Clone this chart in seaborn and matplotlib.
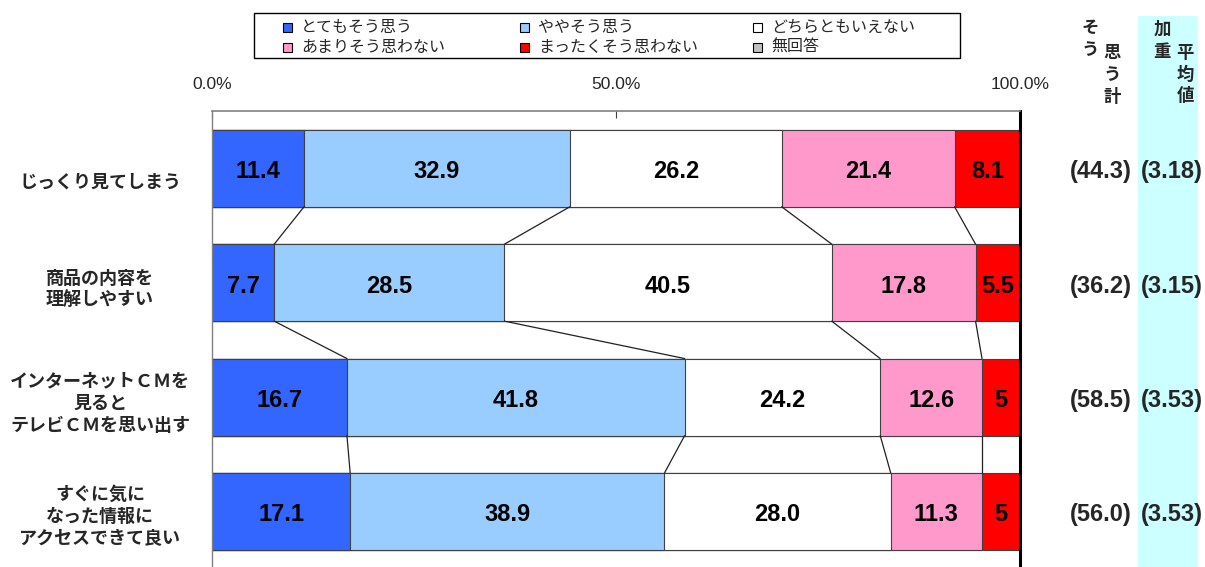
import numpy as np
import pandas as pd
import matplotlib
matplotlib.use("Agg")
import matplotlib.pyplot as plt
from matplotlib.patches import Rectangle
import seaborn as sns

# data
items = ["じっくり見てしまう",
         "商品の内容を\n理解しやすい",
         "インターネットＣＭを\n見ると\nテレビＣＭを思い出す",
         "すぐに気に\nなった情報に\nアクセスできて良い"]
series = ["とてもそう思う", "ややそう思う", "どちらともいえない",
          "あまりそう思わない", "まったくそう思わない", "無回答"]
very = [11.4, 7.7, 16.7, 17.1]
somewhat = [32.9, 28.5, 41.8, 38.9]
neutral = [26.2, 40.5, 24.2, 28.0]
not_much = [21.4, 17.8, 12.6, 11.3]
not_at_all = [8.1, 5.5, 5, 5]
no_answer = [0, 0, 0, 0]
agree_total = ["(44.3)", "(36.2)", "(58.5)", "(56.0)"]
weighted_avg = ["(3.18)", "(3.15)", "(3.53)", "(3.53)"]
seg_labels = [["11.4", "32.9", "26.2", "21.4", "8.1"],
              ["7.7", "28.5", "40.5", "17.8", "5.5"],
              ["16.7", "41.8", "24.2", "12.6", "5"],
              ["17.1", "38.9", "28.0", "11.3", "5"]]
colors = ["#3366FF", "#99CCFF", "#FFFFFF", "#FF99CC", "#FF0000", "#C0C0C0"]

JP = ["Noto Sans CJK JP", "DejaVu Sans"]
EN = ["Liberation Sans", "DejaVu Sans"]

sns.set_style("white")
plt.rcParams["font.family"] = EN

vals = np.array([very, somewhat, neutral, not_much, not_at_all, no_answer]).T
cum = np.cumsum(vals, axis=1)
df = pd.DataFrame(cum, columns=series)
df["item"] = items

fig = plt.figure(figsize=(12.05, 5.67), dpi=100)
ax = fig.add_axes([212 / 1205, -0.003, 808 / 1205, 0.8072])

bar_h = 0.673
# stacked bars: draw cumulative totals from the widest down
for k in range(4, -1, -1):
    sns.barplot(data=df, x=series[k], y="item", order=items, orient="h",
                color=colors[k], saturation=1, width=bar_h,
                edgecolor="#404040", linewidth=0.8, ax=ax)

# connector lines between neighbouring bars
for i in range(len(items) - 1):
    for k in range(4):
        x0 = min(cum[i, k], 100)
        x1 = min(cum[i + 1, k], 100)
        ax.plot([x0, x1], [i + bar_h / 2, i + 1 - bar_h / 2],
                color="#202020", lw=0.9, zorder=3)

# segment labels
for i in range(len(items)):
    for k in range(5):
        left = cum[i, k] - vals[i, k]
        right = min(cum[i, k], 100)
        ax.text((left + right) / 2, i + 0.03, seg_labels[i][k],
                ha="center", va="center", fontsize=17, fontweight="bold",
                color="black", zorder=4)

ax.set_xlim(0, 100)
ax.set_ylim(3.5, -0.5)
ax.set_xlabel("")
ax.set_ylabel("")
ax.xaxis.tick_top()
ax.set_xticks([0, 50, 100])
ax.set_xticklabels(["0.0%", "50.0%", "100.0%"], fontsize=12.5)
ax.tick_params(axis="x", direction="in", length=5, width=0.8,
               color="#404040", pad=14)
ax.set_yticks([0.5, 1.5, 2.5])
ax.set_yticklabels([])
ax.tick_params(axis="y", direction="out", length=4, width=0.8, color="black")
ax.spines["bottom"].set_visible(False)
ax.spines["top"].set_color("#808080")
ax.spines["top"].set_linewidth(1.2)
ax.spines["left"].set_color("#808080")
ax.spines["left"].set_linewidth(1.0)
ax.spines["right"].set_color("black")
ax.spines["right"].set_linewidth(2.2)

# category labels on the left
label_shift = [0.12, 0.06, 0.05, 0.04]
for i, lab in enumerate(items):
    ax.text(-0.1386, i + label_shift[i], lab, transform=ax.get_yaxis_transform(),
            ha="center", va="center", multialignment="center",
            fontsize=13, fontweight="bold", family=JP, linespacing=1.22,
            clip_on=False)

# right hand summary columns
for i in range(len(items)):
    ax.text(1.1002, i + 0.03, agree_total[i], transform=ax.get_yaxis_transform(),
            ha="center", va="center", fontsize=17, fontweight="bold",
            clip_on=False)
    ax.text(1.1881, i + 0.03, weighted_avg[i], transform=ax.get_yaxis_transform(),
            ha="center", va="center", fontsize=17, fontweight="bold",
            clip_on=False)

W, H = 1205, 567
band = Rectangle((1138 / W, 0), 60 / W, 1 - 16 / H, transform=fig.transFigure,
                 facecolor="#CCFFFF", edgecolor="none", zorder=-1)
fig.add_artist(band)

def ftext(px, py, s, **kw):
    fig.text(px / W, 1 - py / H, s, ha="center", va="center", family=JP, **kw)

for ch, px, py in [("そ", 1090, 28), ("う", 1090, 50),
                   ("思", 1112, 53), ("う", 1112, 75), ("計", 1112, 97),
                   ("加", 1162, 30), ("重", 1162, 52),
                   ("平", 1185, 53), ("均", 1185, 75), ("値", 1185, 96)]:
    ftext(px, py, ch, fontsize=12.5, fontweight="bold")

# legend box
fig.add_artist(Rectangle((254 / W, 1 - 58 / H), 706 / W, 45 / H,
                         transform=fig.transFigure, facecolor="white",
                         edgecolor="black", lw=1.0))
leg_x = [283, 520, 753]
leg_y = [27, 47]
for k, name in enumerate(series):
    col, row = k % 3, k // 3
    sx, sy = leg_x[col], leg_y[row]
    fig.add_artist(Rectangle((sx / W, 1 - (sy + 4.5) / H), 9 / W, 9 / H,
                             transform=fig.transFigure, facecolor=colors[k],
                             edgecolor="black", lw=0.8))
    fig.text((sx + 18) / W, 1 - sy / H, name, ha="left", va="center",
             fontsize=11.5, family=JP)

fig.savefig("out.png", dpi=100)
